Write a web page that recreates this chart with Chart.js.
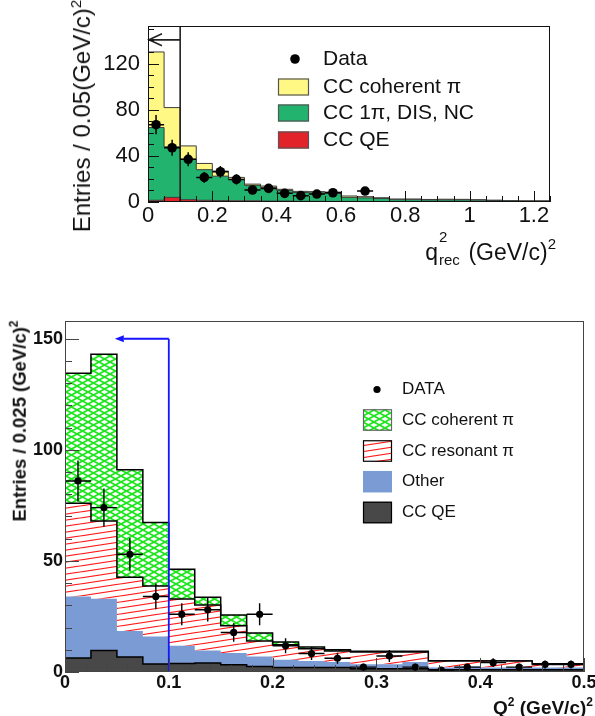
<!DOCTYPE html>
<html>
<head>
<meta charset="utf-8">
<script src="https://cdn.jsdelivr.net/npm/chart.js@4.4.1/dist/chart.umd.min.js"></script>
<style>
html, body { margin: 0; padding: 0; background: #fff; }
body { width: 595px; height: 716px; position: relative; overflow: hidden;
       font-family: "Liberation Sans", Arial, Helvetica, sans-serif; color: #111; }
canvas { position: absolute; left: 0; }
#topChart { top: 0; }
#botChart { top: 290px; }
.title { position: absolute; white-space: nowrap; line-height: 1; }
.rot { transform: translate(-50%, -50%) rotate(-90deg); }
.up { position: relative; }
.ss { display: inline-block; position: relative; height: 1px; }
.ss span { position: absolute; left: 1px; line-height: 1; }
</style>
</head>
<body>
<canvas id="topChart" width="595" height="285"></canvas>
<canvas id="botChart" width="595" height="426"></canvas>

<div class="title rot" style="left:82px; top:116px; font-size:24px;">Entries / 0.05(GeV/c)<span class="up" style="font-size:15px; top:-9px;">2</span></div>
<div class="title" style="right:39px; top:241px; font-size:23px;">q<span class="ss" style="width:24px;"><span style="font-size:15px; top:-30px;">2</span><span style="font-size:15px; top:-7px;">rec</span></span> (GeV/c)<span class="up" style="font-size:15px; top:-11px;">2</span></div>

<div class="title rot" style="left:20px; top:421px; font-size:18.5px; font-weight:bold;">Entries / 0.025 (GeV/c)<span class="up" style="font-size:12px; top:-8px;">2</span></div>
<div class="title" style="right:2px; top:698px; font-size:19px; font-weight:bold;">Q<span class="up" style="font-size:12px; top:-8px;">2</span> (GeV/c)<span class="up" style="font-size:12px; top:-8px;">2</span></div>

<script>
// ======================================
// Data: top panel, q2_rec in 0.05 (GeV/c)^2 bins, 0 - 1.25
// ======================================

const topBinWidth = 0.05;

const topCCQE = [1.5, 4, 2, 1.5, 1.2, 1, 1, 0.8, 0.8, 0.6, 0.6, 0.5, 0.5,
                 0.4, 0.4, 0.3, 0.3, 0.3, 0.3, 0.2, 0.2, 0.2, 0.2, 0.2, 0.2];

const topCC1pi = [63, 43.8, 35, 26.5, 21.2, 18.6, 13.4, 11.9, 9.2, 7.6, 7.4, 7.1, 3.5,
                  3.2, 2.6, 1.7, 1.7, 1.5, 1.5, 1.6, 1.4, 1.1, 0.8, 0.6, 0.6];

const topCoherent = [65.5, 34, 11.6, 5.4, 4.4, 1.7, 1.1, 1.1, 1, 1, 1, 1, 1.2,
                     1, 0.7, 0.6, 0.6, 0.4, 0.6, 0.5, 0.4, 0.3, 0.2, 0.2, 0.2];

const topDataX = [0.025, 0.075, 0.125, 0.175, 0.225, 0.275, 0.325, 0.375,
                  0.425, 0.475, 0.525, 0.575, 0.675];
const topDataY = [67, 47, 37, 21.3, 26.2, 19.6, 10.4, 11.8, 7.5, 5.5, 6.9, 8, 9.5];
const topDataErr = [8.4, 7, 6, 4.6, 5.1, 4.4, 3.2, 3.4, 2.7, 2.3, 2.6, 2.8, 3];

const topXTicks = [0, 0.2, 0.4, 0.6, 0.8, 1, 1.2];
const topYTicks = [0, 40, 80, 120];

// ======================================
// Data: bottom panel, Q2 in 0.025 (GeV/c)^2 bins, 0 - 0.5
// ======================================

const botBinWidth = 0.025;

const botCCQE = [6.3, 9.7, 6.7, 3.6, 3.8, 4, 3.3, 2.5, 2, 2,
                 2, 1.5, 1.5, 1.5, 1, 1, 1, 1, 1, 1];

const botOther = [27.7, 23.3, 11.8, 12.4, 8, 5.7, 5.2, 4.5, 3.5, 3,
                  2.5, 2, 2, 3, 1, 1.5, 1, 1, 1, 1];

const botResonant = [42, 35, 24.1, 22.7, 21.1, 20.5, 12.3, 7, 6.8, 5.5,
                     5, 5.5, 5.5, 4.5, 3, 2.5, 3, 3, 1.6, 1.6];

const botCoherent = [58.5, 75, 48.4, 28.6, 13.3, 3.5, 4.9, 3.5, 1.2, 0.7,
                     0.5, 0.3, 0.3, 0.3, 0.1, 0.1, 0, 0, 0.1, 0.1];

const botDataX = [0.0125, 0.0375, 0.0625, 0.0875, 0.1125, 0.1375, 0.1625, 0.1875, 0.2125, 0.2375,
                  0.2625, 0.2875, 0.3125, 0.3375, 0.3625, 0.3875, 0.4125, 0.4375, 0.4625, 0.4875];
const botDataY = [86, 74, 53, 34, 26, 28, 17.8, 26, 11.8, 8.3,
                  6.2, 2.2, 7.2, 2.2, 0.9, 2.2, 4.2, 2.2, 3.4, 3.4];
const botDataErr = [9.2, 8.6, 7.3, 5.8, 5, 5.3, 4.2, 5, 3.4, 2.9,
                    2.5, 1.5, 2.7, 1.5, 1, 1.5, 2, 1.5, 1.8, 1.8];

const botXTicks = [0, 0.1, 0.2, 0.3, 0.4, 0.5];
const botYTicks = [0, 50, 100, 150];

// ======================================
// Helpers
// ======================================

Chart.defaults.font.family = '"Liberation Sans", Arial, Helvetica, sans-serif';

// histogram as a stepped line: one point per lower bin edge plus the last upper edge
function stepData(values, binWidth) {
    const pts = values.map((v, i) => ({ x: i * binWidth, y: v }));
    pts.push({ x: values.length * binWidth, y: values[values.length - 1] });
    return pts;
}

function pointData(xs, ys) {
    return xs.map((x, i) => ({ x: x, y: ys[i] }));
}

function hatch(color, w, h, lw, cross) {
    const c = document.createElement("canvas");
    c.width = w; c.height = h;
    const g = c.getContext("2d");
    g.fillStyle = "#ffffff";
    g.fillRect(0, 0, w, h);
    g.strokeStyle = color;
    g.lineWidth = lw;
    for (let k = -1; k <= 1; k++) {
        g.beginPath();
        g.moveTo(0, h + k * h);
        g.lineTo(w, k * h);
        if (cross) {
            g.moveTo(0, k * h);
            g.lineTo(w, h + k * h);
        }
        g.stroke();
    }
    return g.createPattern(c, "repeat");
}

function histSet(label, values, binWidth, fill, border, width, first, legendBorder) {
    return {
        label: label,
        data: stepData(values, binWidth),
        stepped: true,
        fill: first ? "origin" : "-1",
        backgroundColor: fill,
        borderColor: border,
        borderWidth: width,
        pointRadius: 0,
        legendBorder: legendBorder
    };
}

function dataSet(label, xs, ys, errs, halfWidth, radius) {
    return {
        label: label,
        data: pointData(xs, ys),
        errY: errs,
        errX: halfWidth,
        stack: "data",
        order: -1,
        showLine: false,
        fill: false,
        pointRadius: radius,
        pointBackgroundColor: "#000",
        pointBorderWidth: 0,
        borderColor: "#000"
    };
}

// ROOT-like frame, inner ticks, error bars, cut arrow, legend
const rootStyle = {
    id: "rootStyle",
    afterDatasetsDraw(chart, args, o) {
        const ctx = chart.ctx;
        const xs = chart.scales.x;
        const ys = chart.scales.y;
        const a = chart.chartArea;
        ctx.save();

        // cut arrow
        const ar = o.arrow;
        const ax = xs.getPixelForValue(ar.x);
        const ay = ys.getPixelForValue(ar.yArrow);
        const tip = xs.getPixelForValue(ar.xTip);
        ctx.strokeStyle = ar.color;
        ctx.fillStyle = ar.color;
        ctx.lineWidth = ar.width;
        ctx.beginPath();
        ctx.moveTo(ax, ys.getPixelForValue(0));
        ctx.lineTo(ax, ys.getPixelForValue(ar.yTop));
        ctx.moveTo(ax, ay);
        ctx.lineTo(tip + (ar.filled ? ar.head : 0), ay);
        ctx.stroke();
        ctx.beginPath();
        if (ar.filled) {
            ctx.moveTo(tip, ay);
            ctx.lineTo(tip + ar.head, ay - ar.half);
            ctx.lineTo(tip + ar.head, ay + ar.half);
            ctx.closePath();
            ctx.fill();
        } else {
            ctx.moveTo(tip + ar.head, ay - ar.half);
            ctx.lineTo(tip, ay);
            ctx.lineTo(tip + ar.head, ay + ar.half);
            ctx.stroke();
        }

        // error bars
        ctx.strokeStyle = "#000";
        ctx.lineWidth = o.errWidth;
        chart.data.datasets.forEach(ds => {
            if (!ds.errY) return;
            ds.data.forEach((p, j) => {
                const px = xs.getPixelForValue(p.x);
                const py = ys.getPixelForValue(p.y);
                ctx.beginPath();
                ctx.moveTo(px, ys.getPixelForValue(Math.max(0, p.y - ds.errY[j])));
                ctx.lineTo(px, ys.getPixelForValue(p.y + ds.errY[j]));
                ctx.moveTo(xs.getPixelForValue(p.x - ds.errX), py);
                ctx.lineTo(xs.getPixelForValue(p.x + ds.errX), py);
                ctx.stroke();
            });
        });

        // frame
        ctx.strokeStyle = o.frameColor;
        ctx.lineWidth = 1;
        ctx.strokeRect(Math.round(a.left) + 0.5, Math.round(a.top) + 0.5,
                       Math.round(a.right - a.left) - 1, Math.round(a.bottom - a.top) - 1);

        // inner ticks
        ctx.beginPath();
        const xn = Math.round((xs.max - xs.min) / o.xMinor);
        for (let i = 0; i <= xn; i++) {
            const v = xs.min + i * o.xMinor;
            const major = Math.abs(v / o.xMajor - Math.round(v / o.xMajor)) < 1e-6;
            const px = Math.round(xs.getPixelForValue(v)) + 0.5;
            ctx.moveTo(px, a.bottom);
            ctx.lineTo(px, a.bottom - (major ? o.majorLen : o.minorLen));
        }
        const yn = Math.floor((ys.max - ys.min) / o.yMinor + 1e-6);
        for (let i = 0; i <= yn; i++) {
            const v = ys.min + i * o.yMinor;
            const major = Math.abs(v / o.yMajor - Math.round(v / o.yMajor)) < 1e-6;
            const py = Math.round(ys.getPixelForValue(v)) + 0.5;
            ctx.moveTo(a.left, py);
            ctx.lineTo(a.left + (major ? o.majorLen : o.minorLen), py);
        }
        ctx.stroke();

        // legend
        const L = o.legend;
        ctx.font = L.font;
        ctx.textBaseline = "middle";
        ctx.textAlign = "left";
        L.items.forEach(it => {
            const ds = chart.data.datasets[it.ds];
            if (it.marker) {
                ctx.fillStyle = "#000";
                ctx.beginPath();
                ctx.arc(L.markerX, it.y, ds.pointRadius, 0, Math.PI * 2);
                ctx.fill();
            } else {
                ctx.fillStyle = ds.backgroundColor;
                ctx.fillRect(L.boxX, it.y - L.boxH / 2, L.boxW, L.boxH);
                if (ds.legendBorder) {
                    ctx.strokeStyle = ds.legendBorder;
                    ctx.lineWidth = 1.2;
                    ctx.strokeRect(L.boxX + 0.5, it.y - L.boxH / 2 + 0.5, L.boxW - 1, L.boxH - 1);
                }
            }
            ctx.fillStyle = "#111";
            ctx.fillText(ds.label, L.textX, it.y);
        });

        ctx.restore();
    }
};

// ======================================
// Reusable Chart Factory
// ======================================

function createHistChart(canvasId, s) {

    const ctx = document.getElementById(canvasId).getContext("2d");

    return new Chart(ctx, {
        type: "line",
        data: { datasets: s.datasets },
        options: {
            responsive: false,
            animation: false,
            devicePixelRatio: 1,
            events: [],
            layout: { padding: s.padding },
            plugins: {
                legend: { display: false },
                tooltip: { enabled: false },
                rootStyle: s.style
            },
            scales: {
                x: {
                    type: "linear",
                    min: s.xMin,
                    max: s.xMax,
                    grid: { display: false, drawTicks: false },
                    border: { display: false },
                    ticks: {
                        font: s.tickFont,
                        color: "#111",
                        padding: s.xPad,
                        maxRotation: 0,
                        autoSkip: false,
                        callback: v => String(v)
                    },
                    afterBuildTicks: sc => { sc.ticks = s.xTicks.map(v => ({ value: v })); },
                    afterFit: sc => { sc.height = s.xAxisH; sc.paddingLeft = 0; sc.paddingRight = 0; }
                },
                y: {
                    type: "linear",
                    stacked: true,
                    min: 0,
                    max: s.yMax,
                    grid: { display: false, drawTicks: false },
                    border: { display: false },
                    ticks: {
                        font: s.tickFont,
                        color: "#111",
                        padding: s.yPad,
                        autoSkip: false,
                        callback: v => String(v)
                    },
                    afterBuildTicks: sc => { sc.ticks = s.yTicks.map(v => ({ value: v })); },
                    afterFit: sc => { sc.width = s.yAxisW; sc.paddingTop = 0; sc.paddingBottom = 0; }
                }
            }
        },
        plugins: [rootStyle]
    });
}

// ======================================
// Create Charts
// ======================================

const topChart = createHistChart("topChart", {
    datasets: [
        histSet("CC QE", topCCQE, topBinWidth, "#e3232a", "#3c3c3c", 1, true, "#555"),
        histSet("CC 1\u03c0, DIS, NC", topCC1pi, topBinWidth, "#22b46e", "#3c3c3c", 1, false, "#555"),
        histSet("CC coherent \u03c0", topCoherent, topBinWidth, "#fff884", "#3c3c3c", 1, false, "#555"),
        dataSet("Data", topDataX, topDataY, topDataErr, topBinWidth / 2, 4.8)
    ],
    padding: { top: 26, right: 45, left: 0, bottom: 0 },
    xMin: 0, xMax: 1.25, yMax: 152.5,
    xTicks: topXTicks, yTicks: topYTicks,
    xAxisH: 83, yAxisW: 148,
    xPad: 1, yPad: 8,
    tickFont: { size: 22, weight: "normal" },
    style: {
        frameColor: "#111",
        errWidth: 1.5,
        xMinor: 0.05, xMajor: 0.2, yMinor: 10, yMajor: 40,
        majorLen: 11, minorLen: 6,
        arrow: { x: 0.1, yTop: 152.5, yArrow: 140.5, xTip: 0.003, color: "#222",
                 width: 1.6, head: 13, half: 6, filled: false },
        legend: {
            font: "21px 'Liberation Sans', Arial, sans-serif",
            markerX: 295, boxX: 278, boxW: 31, boxH: 17, textX: 323,
            items: [ { ds: 3, y: 59, marker: true }, { ds: 2, y: 87 }, { ds: 1, y: 113 }, { ds: 0, y: 140 } ]
        }
    }
});

const greenHatch = hatch("#1ee61e", 11, 6, 1.7, true);
const redHatch = hatch("#ff1a1a", 40, 6, 1.2, false);

const botChart = createHistChart("botChart", {
    datasets: [
        histSet("CC QE", botCCQE, botBinWidth, "#484848", "#000", 1.5, true, "#000"),
        histSet("Other", botOther, botBinWidth, "#7b9bd4", "rgba(0,0,0,0)", 0, false, null),
        histSet("CC resonant \u03c0", botResonant, botBinWidth, redHatch, "#000", 1.5, false, "#000"),
        histSet("CC coherent \u03c0", botCoherent, botBinWidth, greenHatch, "#000", 1.5, false, "#666"),
        dataSet("DATA", botDataX, botDataY, botDataErr, botBinWidth / 2, 3.6)
    ],
    padding: { top: 31, right: 11, left: 0, bottom: 0 },
    xMin: 0, xMax: 0.5, yMax: 158,
    xTicks: botXTicks, yTicks: botYTicks,
    xAxisH: 44, yAxisW: 65,
    xPad: 0, yPad: 2,
    tickFont: { size: 18, weight: "bold" },
    style: {
        frameColor: "#444",
        errWidth: 1.4,
        xMinor: 0.02, xMajor: 0.1, yMinor: 10, yMajor: 50,
        majorLen: 14, minorLen: 7,
        arrow: { x: 0.1, yTop: 150, yArrow: 150, xTip: 0.048, color: "#1515ff",
                 width: 1.8, head: 9, half: 3.5, filled: true },
        legend: {
            font: "17px 'Liberation Sans', Arial, sans-serif",
            markerX: 377, boxX: 363, boxW: 29, boxH: 21.5, textX: 402,
            items: [ { ds: 4, y: 99.5, marker: true }, { ds: 3, y: 130 }, { ds: 2, y: 161 },
                     { ds: 1, y: 191.7 }, { ds: 0, y: 222.5 } ]
        }
    }
});
</script>
</body>
</html>
